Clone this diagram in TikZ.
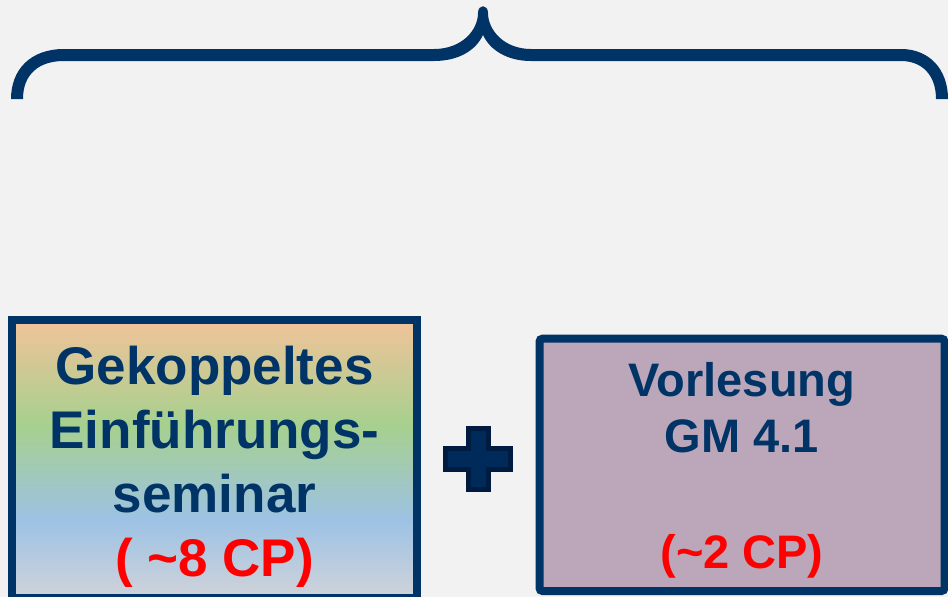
\documentclass[tikz,border=0pt]{standalone}
\usepackage{fontspec}
\setmainfont{Liberation Sans}
\definecolor{navy}{HTML}{003366}
\definecolor{bg}{HTML}{F2F2F2}
\definecolor{peach}{HTML}{F1C39A}
\definecolor{lgreen}{HTML}{A6D08E}
\definecolor{lblue}{HTML}{9DC2E5}
\definecolor{lgray}{HTML}{D0D3D9}
\definecolor{mauve}{HTML}{BBA7B9}
\definecolor{plusfill}{HTML}{002A5A}
\definecolor{plusline}{HTML}{001B40}
\definecolor{cpred}{HTML}{FF0000}
\pgfdeclareverticalshading{leftgrad}{100bp}{color(0bp)=(lgray); color(25bp)=(lgray); color(39bp)=(lblue); color(56bp)=(lgreen); color(75bp)=(peach); color(100bp)=(peach)}
\begin{document}
\begin{tikzpicture}[x=1pt,y=-1pt,
  boxstyle/.style={draw=navy,line width=7.7pt,inner sep=0pt,outer sep=0pt},
  bigtxt/.style={font=\bfseries\fontsize{53}{64}\selectfont,text=navy,anchor=base,inner sep=0pt},
  midtxt/.style={font=\bfseries\fontsize{47}{56}\selectfont,text=navy,anchor=base,inner sep=0pt},
  cpbig/.style={bigtxt,text=cpred},
  cpmid/.style={midtxt,text=cpred}]
\useasboundingbox[fill=bg] (0,0) rectangle (948,597);
% brace
\fill[navy] (11,99) .. controls (11,70) and (30,49) .. (64,49)
  -- (434,49) .. controls (462,49) and (478,30) .. (478,13)
  .. controls (478,4) and (488,4) .. (488,13)
  .. controls (488,30) and (504,49) .. (531,49)
  -- (901,49) .. controls (930,49) and (948,70) .. (948,99)
  -- (936,99) .. controls (936,75) and (922,61) .. (901,61)
  -- (531,61) .. controls (507,61) and (490,50) .. (483,35)
  .. controls (476,50) and (459,61) .. (434,61)
  -- (64,61) .. controls (38,61) and (23,75) .. (23,99) -- cycle;
% left box
\node[boxstyle,shading=leftgrad,minimum width=405pt,minimum height=278pt] (left) at (214.5,459) {};
\node[bigtxt] (l1) at (214.5,384) {Gekoppeltes};
\node[bigtxt] (l2) at (214.5,448) {Einführungs-};
\node[bigtxt] (l3) at (214.5,512) {seminar};
\node[cpbig] (l4) at (214.5,576) {( \textasciitilde8 CP)};
% right box
\node[boxstyle,line width=8pt,fill=mauve,rounded corners=3pt,minimum width=405pt,minimum height=252.3pt] (right) at (742,464.85) {};
\node[midtxt] (r1) at (742,396) {Vorlesung};
\node[midtxt] (r2) at (742,452.5) {GM 4.1};
\node[cpmid] (r3) at (742,568) {(\textasciitilde2 CP)};
% plus
\draw[fill=plusfill,draw=plusline,line width=5pt,line join=miter]
  (468.3,428.2) -- (488.3,428.2) -- (488.3,448.5) -- (510.5,448.5) -- (510.5,469.5)
  -- (488.3,469.5) -- (488.3,489.5) -- (468.3,489.5) -- (468.3,469.5) -- (445.2,469.5)
  -- (445.2,448.5) -- (468.3,448.5) -- cycle;
\node[inner sep=0pt] (plus) at (478,459) {};
\end{tikzpicture}
\end{document}
